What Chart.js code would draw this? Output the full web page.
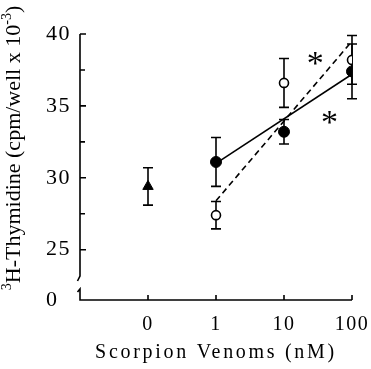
<!DOCTYPE html>
<html>
<head>
<meta charset="utf-8">
<script src="https://cdn.jsdelivr.net/npm/chart.js@4.4.1/dist/chart.umd.min.js"></script>
<style>
  html, body { margin: 0; padding: 0; background: #fff; }
  #wrap { width: 371px; height: 369px; }
</style>
</head>
<body>
<div id="wrap"><canvas id="chart"></canvas></div>
<script>
// x positions of the doses (0 = control, then 1, 10, 100 nM)
const doseLabels = ['0', '1', '10', '100'];
const dosePos = [0, 1, 2, 3];

// control (triangle)
const controlMean = [29.4];
const controlSem = [1.3];
// filled circles at 1, 10, 100 nM
const filledMean = [31.1, 33.2, 37.4];
const filledSem = [1.7, 0.85, 1.9];
// open circles at 1, 10, 100 nM
const openMean = [27.4, 36.6, 38.2];
const openSem = [0.95, 1.7, 1.7];
// regression lines, value at 1 nM and at 100 nM
const solidFit = [31.0, 37.2];
const dashedFit = [28.4, 39.5];

// y axis: broken, "0" sits below the break
const yTicks = [25, 30, 35, 40];
const yMinor = [27.5, 32.5, 37.5];
const yZero = 21.5;

// asterisks (significance marks)
const starX = [2.46, 2.67];
const starY = [38.35, 34.25];

const serif = "'Liberation Serif', 'DejaVu Serif', serif";

function pts(xs, ys) {
  return ys.map((y, i) => ({ x: xs[i], y: y }));
}

// error bars under the markers
const errorBars = {
  id: 'errorBars',
  beforeDatasetsDraw(chart) {
    const ctx = chart.ctx, xs = chart.scales.x, ys = chart.scales.y;
    const sets = [
      [dosePos.slice(0, 1), controlMean, controlSem],
      [dosePos.slice(1), filledMean, filledSem],
      [dosePos.slice(1), openMean, openSem]
    ];
    ctx.save();
    ctx.strokeStyle = '#000';
    ctx.lineWidth = 1.6;
    sets.forEach(([px, m, s]) => {
      m.forEach((v, i) => {
        const x = xs.getPixelForValue(px[i]);
        const y1 = ys.getPixelForValue(v - s[i]);
        const y2 = ys.getPixelForValue(v + s[i]);
        ctx.beginPath();
        ctx.moveTo(x, y1); ctx.lineTo(x, y2);
        ctx.moveTo(x - 5, y1); ctx.lineTo(x + 5, y1);
        ctx.moveTo(x - 5, y2); ctx.lineTo(x + 5, y2);
        ctx.stroke();
      });
    });
    ctx.restore();
  }
};

// axes with inside ticks, the axis break, titles and asterisks
const decor = {
  id: 'decor',
  beforeUpdate(chart) { chart.ctx.letterSpacing = '1.5px'; },
  beforeDraw(chart) { chart.ctx.letterSpacing = '1.5px'; },
  afterDraw(chart) {
    const ctx = chart.ctx, xs = chart.scales.x, ys = chart.scales.y;
    const a = chart.chartArea;
    const x0 = a.left, yb = ys.getPixelForValue(yZero);
    ctx.save();
    ctx.letterSpacing = '0px';
    ctx.strokeStyle = '#000';
    ctx.lineWidth = 1.6;
    ctx.beginPath();
    // upper part of y axis with hook
    ctx.moveTo(x0, a.top);
    ctx.lineTo(x0, yb - 24);
    ctx.lineTo(x0 - 2.5, yb - 19);
    // lower part with hook
    ctx.moveTo(x0 - 2.5, yb - 8);
    ctx.lineTo(x0, yb - 11);
    ctx.lineTo(x0, yb);
    // x axis
    ctx.lineTo(a.right, yb);
    // y ticks
    yTicks.forEach(v => {
      const y = ys.getPixelForValue(v);
      ctx.moveTo(x0, y); ctx.lineTo(x0 + 6, y);
    });
    yMinor.forEach(v => {
      const y = ys.getPixelForValue(v);
      ctx.moveTo(x0, y); ctx.lineTo(x0 + 5, y);
    });
    // x ticks
    dosePos.forEach(v => {
      const x = xs.getPixelForValue(v);
      ctx.moveTo(x, yb); ctx.lineTo(x, yb - 5);
    });
    ctx.stroke();

    ctx.fillStyle = '#000';
    // asterisks
    ctx.font = '34px ' + serif;
    ctx.textAlign = 'center';
    ctx.textBaseline = 'alphabetic';
    starX.forEach((v, i) => {
      ctx.fillText('*', xs.getPixelForValue(v), ys.getPixelForValue(starY[i]) + 16);
    });

    // x title
    ctx.font = '20px ' + serif;
    ctx.letterSpacing = '2.7px';
    ctx.fillText('Scorpion Venoms (nM)', 216, 358);

    // y title, rotated, with superscripts
    ctx.letterSpacing = '0px';
    ctx.translate(20, 148);
    ctx.rotate(-Math.PI / 2);
    const big = '22px ' + serif, small = '14px ' + serif;
    const parts = [['3', small, -9], ['H-Thymidine (cpm/well x 10', big, 0], ['-3', small, -9], [')', big, 0]];
    let total = 0;
    parts.forEach(p => { ctx.font = p[1]; total += ctx.measureText(p[0]).width; });
    let cx = -total / 2;
    ctx.textAlign = 'left';
    parts.forEach(p => {
      ctx.font = p[1];
      ctx.fillText(p[0], cx, p[2]);
      cx += ctx.measureText(p[0]).width;
    });
    ctx.restore();
  }
};

new Chart(document.getElementById('chart'), {
  type: 'scatter',
  data: {
    datasets: [
      {
        label: 'control',
        data: pts(dosePos.slice(0, 1), controlMean),
        pointStyle: 'triangle',
        pointRadius: 6,
        backgroundColor: '#000',
        borderColor: '#000',
        borderWidth: 1
      },
      {
        label: 'filled',
        data: pts(dosePos.slice(1), filledMean),
        pointStyle: 'circle',
        pointRadius: 5.5,
        backgroundColor: '#000',
        borderColor: '#000',
        borderWidth: 1
      },
      {
        label: 'open',
        data: pts(dosePos.slice(1), openMean),
        pointStyle: 'circle',
        pointRadius: 4.5,
        backgroundColor: '#fff',
        borderColor: '#000',
        borderWidth: 1.6
      },
      {
        label: 'solid fit',
        data: pts([1, 3], solidFit),
        showLine: true,
        pointRadius: 0,
        borderColor: '#000',
        borderWidth: 1.6
      },
      {
        label: 'dashed fit',
        data: pts([1, 3], dashedFit),
        showLine: true,
        pointRadius: 0,
        borderColor: '#000',
        borderWidth: 1.6,
        borderDash: [6, 4]
      }
    ]
  },
  options: {
    responsive: true,
    maintainAspectRatio: false,
    animation: false,
    layout: { padding: { left: 46, right: 19, top: 34, bottom: 0 } },
    plugins: { legend: { display: false }, tooltip: { enabled: false } },
    scales: {
      x: {
        type: 'linear',
        min: -1,
        max: 3,
        grid: { display: false, drawTicks: false },
        border: { display: false },
        afterBuildTicks: s => { s.ticks = dosePos.map(v => ({ value: v })); },
        afterFit: s => { s.height = 69; s.paddingLeft = 0; s.paddingRight = 0; },
        ticks: {
          padding: 13,
          maxRotation: 0,
          color: '#000',
          font: { family: serif, size: 20 },
          callback: v => doseLabels[dosePos.indexOf(v)]
        }
      },
      y: {
        min: yZero,
        max: 40,
        grid: { display: false, drawTicks: false },
        border: { display: false },
        afterBuildTicks: s => { s.ticks = [yZero].concat(yTicks).map(v => ({ value: v })); },
        afterFit: s => { s.width = 34; s.paddingTop = 0; s.paddingBottom = 0; },
        ticks: {
          crossAlign: 'far',
          color: '#000',
          font: { family: serif, size: 22 },
          callback: v => (v === yZero ? '0' : String(v))
        }
      }
    }
  },
  plugins: [errorBars, decor]
});
</script>
</body>
</html>
